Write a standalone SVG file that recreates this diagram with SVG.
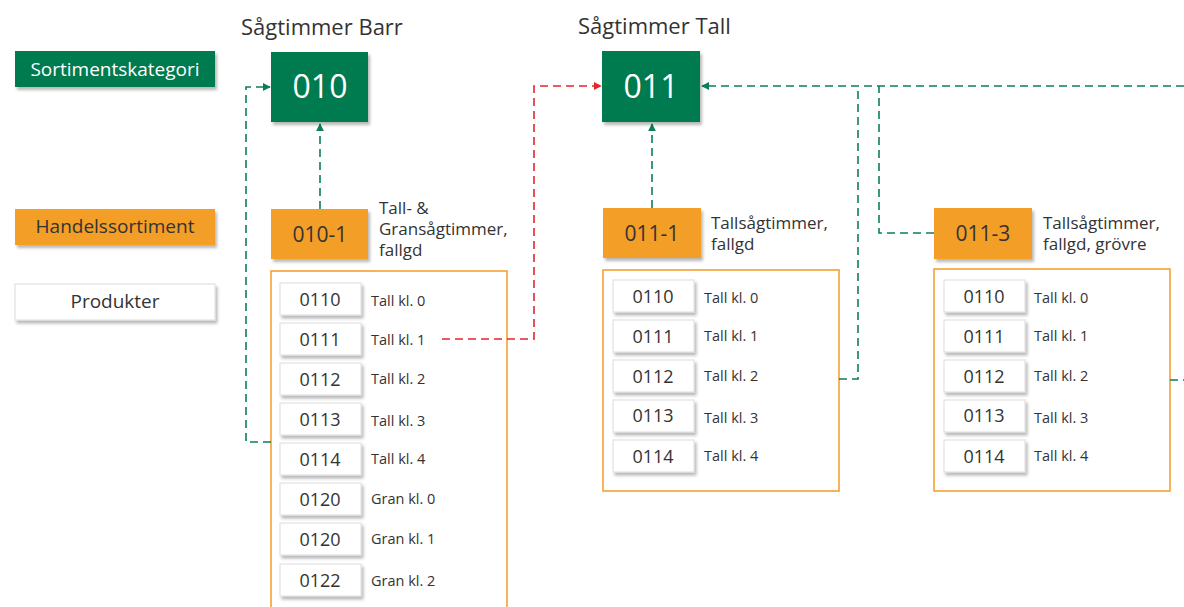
<svg xmlns="http://www.w3.org/2000/svg" width="1184" height="607" viewBox="0 0 1184 607">
<style>
text{font-family:"Open Sans","Noto Sans","Liberation Sans",sans-serif;fill:#333}
.cat{fill:#007a4f;filter:url(#sh)}
.han{fill:#f39e26;filter:url(#sh)}
.prod{fill:#fff;stroke:#dcdcdc;stroke-width:1;filter:url(#sh)}
.cont{fill:#fff;stroke:#f5a032;stroke-width:1.6}
.g{fill:none;stroke:#0b7f58;stroke-width:1.6;stroke-dasharray:8 5}
.r{fill:none;stroke:#e3262b;stroke-width:1.6;stroke-dasharray:8 5}
.num{font-size:18px;text-anchor:middle}
.lbl{font-size:14.5px}
.desc{font-size:17px}
.title{font-size:22px}
.leg{font-size:19px;text-anchor:middle}
</style>
<defs>
<filter id="sh" x="-20%" y="-20%" width="150%" height="160%">
<feDropShadow dx="2" dy="3" stdDeviation="1.5" flood-color="#000" flood-opacity="0.28"/>
</filter>
<marker id="ag" viewBox="0 0 10 10" refX="9" refY="5" markerWidth="8" markerHeight="8" markerUnits="userSpaceOnUse" orient="auto">
<path d="M0,0 L10,5 L0,10 z" fill="#0b7f58"/>
</marker>
<marker id="ar" viewBox="0 0 10 10" refX="9" refY="5" markerWidth="8" markerHeight="8" markerUnits="userSpaceOnUse" orient="auto">
<path d="M0,0 L10,5 L0,10 z" fill="#e3262b"/>
</marker>
</defs>
<rect width="1184" height="607" fill="#fff"/>

<g id="legend">
<rect class="cat" x="15" y="51" width="200" height="36"/>
<text class="leg" x="115" y="76" style="fill:#fff">Sortimentskategori</text>
<rect class="han" x="15" y="209" width="200" height="36"/>
<text class="leg" x="115" y="233">Handelssortiment</text>
<rect class="prod" x="15" y="284" width="200" height="36"/>
<text class="leg" x="115" y="308">Produkter</text>
</g>

<g id="containers">
<rect class="cont" x="271" y="271" width="236" height="345"/>
<rect class="cont" x="603" y="270" width="236" height="221"/>
<rect class="cont" x="934" y="269" width="236" height="222"/>
</g>

<g id="connectors">
<path class="g" d="M320,209 V124" marker-end="url(#ag)"/>
<path class="g" d="M271,442 H246 V87 H270" marker-end="url(#ag)"/>
<path class="r" d="M442,339 H534 V86 H601" marker-end="url(#ar)"/>
<path class="g" d="M652,208 V124" marker-end="url(#ag)"/>
<path class="g" d="M1184,86 H702" marker-end="url(#ag)"/>
<path class="g" d="M839,379 H858 V86"/>
<path class="g" d="M934,233 H879 V86"/>
<path class="g" d="M1170,380 H1184"/>
</g>

<g id="node-010">
<text class="title" x="241" y="35">Sågtimmer Barr</text>
<rect class="cat" x="271" y="52" width="97" height="70"/>
<text x="320" y="98" font-size="32" text-anchor="middle" style="fill:#fff">010</text>
</g>
<g id="node-011">
<text class="title" x="578" y="34">Sågtimmer Tall</text>
<rect class="cat" x="602" y="51" width="98" height="71"/>
<text x="651" y="98" font-size="32" text-anchor="middle" style="fill:#fff">011</text>
</g>

<g id="node-010-1">
<rect class="han" x="271" y="209" width="97" height="50"/>
<text x="320" y="242" font-size="21" text-anchor="middle">010-1</text>
<text class="desc" x="379" y="214">Tall- &amp;</text>
<text class="desc" x="379" y="235">Gransågtimmer,</text>
<text class="desc" x="379" y="256">fallgd</text>
</g>
<g id="node-011-1">
<rect class="han" x="603" y="208" width="98" height="50"/>
<text x="652" y="241" font-size="21" text-anchor="middle">011-1</text>
<text class="desc" x="711" y="229">Tallsågtimmer,</text>
<text class="desc" x="711" y="250">fallgd</text>
</g>
<g id="node-011-3">
<rect class="han" x="934" y="208" width="98" height="51"/>
<text x="983" y="241" font-size="21" text-anchor="middle">011-3</text>
<text class="desc" x="1043" y="229">Tallsågtimmer,</text>
<text class="desc" x="1043" y="250">fallgd, grövre</text>
</g>

<g id="products-010-1">
<rect class="prod" x="280" y="283" width="81" height="32"/><text class="num" x="320" y="306">0110</text><text class="lbl" x="371" y="306">Tall kl. 0</text>
<rect class="prod" x="280" y="323" width="81" height="32"/><text class="num" x="320" y="346">0111</text><text class="lbl" x="371" y="345">Tall kl. 1</text>
<rect class="prod" x="280" y="363" width="81" height="32"/><text class="num" x="320" y="386">0112</text><text class="lbl" x="371" y="384">Tall kl. 2</text>
<rect class="prod" x="280" y="403" width="81" height="32"/><text class="num" x="320" y="426">0113</text><text class="lbl" x="371" y="426">Tall kl. 3</text>
<rect class="prod" x="280" y="443" width="81" height="32"/><text class="num" x="320" y="466">0114</text><text class="lbl" x="371" y="464">Tall kl. 4</text>
<rect class="prod" x="280" y="483" width="81" height="32"/><text class="num" x="320" y="506">0120</text><text class="lbl" x="371" y="504">Gran kl. 0</text>
<rect class="prod" x="280" y="523" width="81" height="32"/><text class="num" x="320" y="546">0120</text><text class="lbl" x="371" y="544">Gran kl. 1</text>
<rect class="prod" x="280" y="564" width="81" height="32"/><text class="num" x="320" y="587">0122</text><text class="lbl" x="371" y="586">Gran kl. 2</text>
</g>

<g id="products-011-1">
<rect class="prod" x="613" y="280" width="81" height="32"/><text class="num" x="653" y="303">0110</text><text class="lbl" x="704" y="303">Tall kl. 0</text>
<rect class="prod" x="613" y="320" width="81" height="32"/><text class="num" x="653" y="343">0111</text><text class="lbl" x="704" y="341">Tall kl. 1</text>
<rect class="prod" x="613" y="360" width="81" height="32"/><text class="num" x="653" y="383">0112</text><text class="lbl" x="704" y="381">Tall kl. 2</text>
<rect class="prod" x="613" y="400" width="81" height="32"/><text class="num" x="653" y="422">0113</text><text class="lbl" x="704" y="423">Tall kl. 3</text>
<rect class="prod" x="613" y="440" width="81" height="32"/><text class="num" x="653" y="463">0114</text><text class="lbl" x="704" y="461">Tall kl. 4</text>
</g>

<g id="products-011-3">
<rect class="prod" x="944" y="280" width="81" height="32"/><text class="num" x="984" y="303">0110</text><text class="lbl" x="1034" y="303">Tall kl. 0</text>
<rect class="prod" x="944" y="320" width="81" height="32"/><text class="num" x="984" y="343">0111</text><text class="lbl" x="1034" y="341">Tall kl. 1</text>
<rect class="prod" x="944" y="360" width="81" height="32"/><text class="num" x="984" y="383">0112</text><text class="lbl" x="1034" y="381">Tall kl. 2</text>
<rect class="prod" x="944" y="400" width="81" height="32"/><text class="num" x="984" y="422">0113</text><text class="lbl" x="1034" y="423">Tall kl. 3</text>
<rect class="prod" x="944" y="440" width="81" height="32"/><text class="num" x="984" y="463">0114</text><text class="lbl" x="1034" y="461">Tall kl. 4</text>
</g>
</svg>
